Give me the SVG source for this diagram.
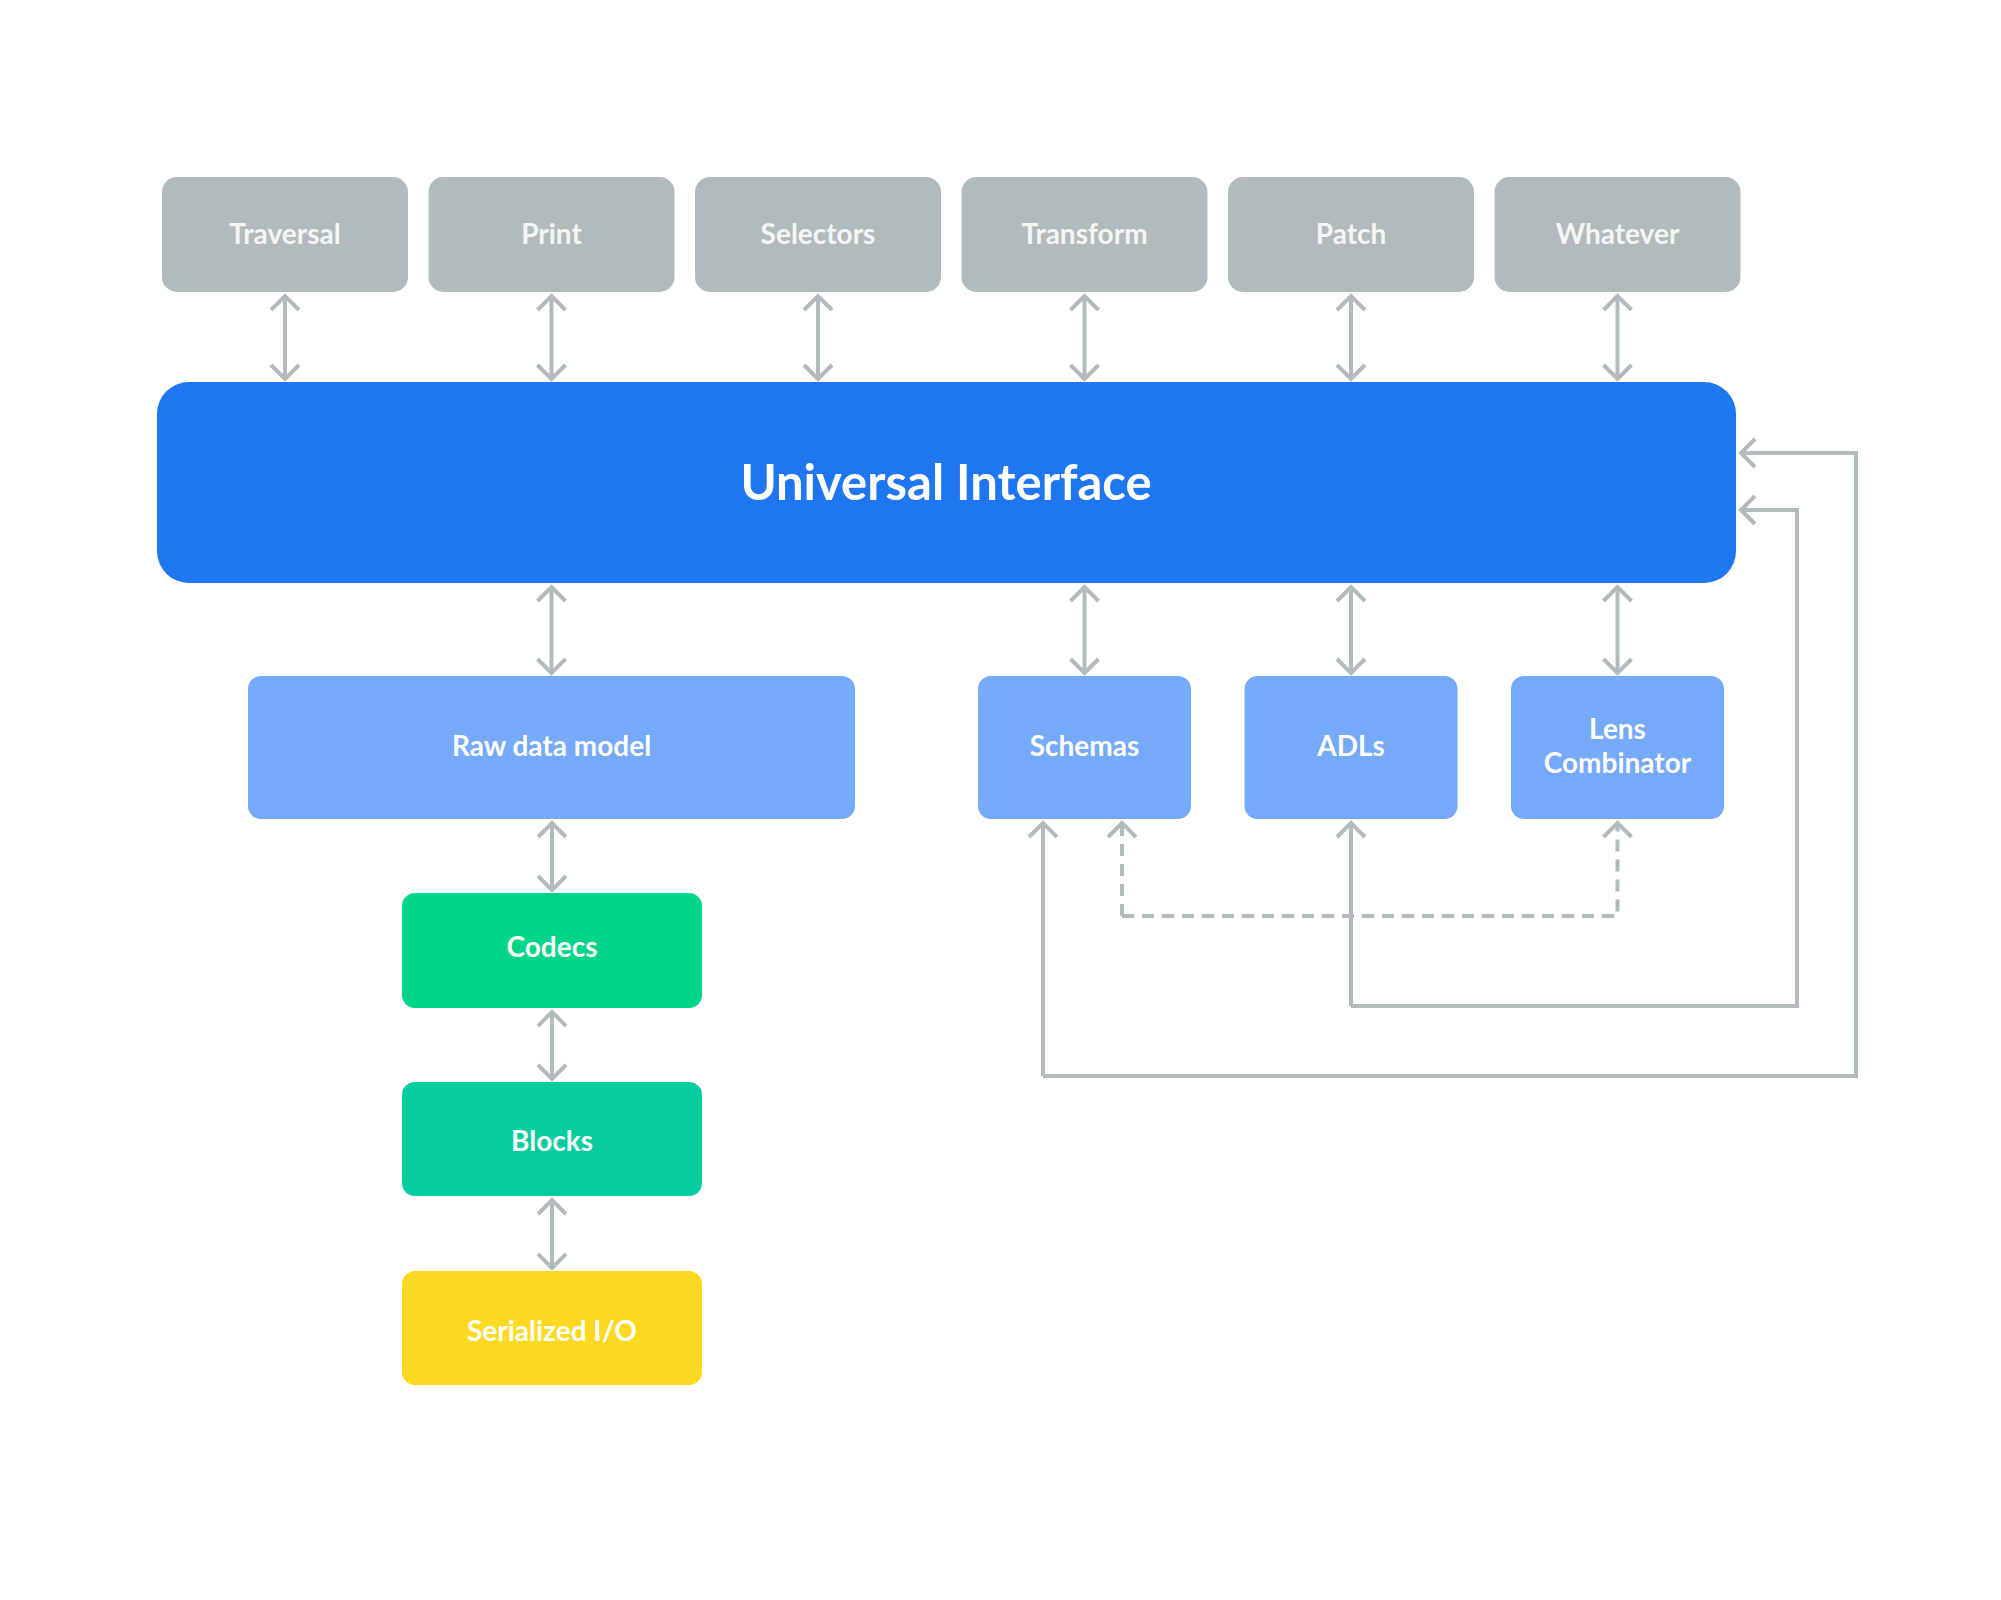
<svg xmlns="http://www.w3.org/2000/svg" width="2001" height="1600" viewBox="0 0 2001 1600">
<style>
.top rect{fill:#b2bbbb}
.lb rect{fill:#74aaf9}
text{font-family:Lato,"Open Sans",sans-serif;font-weight:700;fill:#ffffff;text-anchor:middle;dominant-baseline:central;font-size:28px}
.top text{fill:#f4f6f6}
.big{font-size:49px}
.c{fill:none;stroke:#b2bbbb;stroke-width:4}
.d{stroke-dasharray:12 8}
</style>
<defs>
<marker id="ah" markerUnits="userSpaceOnUse" viewBox="-20 -20 40 40" markerWidth="40" markerHeight="40" refX="1" refY="0" orient="auto-start-reverse" overflow="visible">
<path d="M-14,-14 L0,0 L-14,14" fill="none" stroke="#b2bbbb" stroke-width="4"/>
</marker>
</defs>
<rect width="2001" height="1600" fill="#ffffff"/>
<g id="traversal" class="top"><rect x="162" y="177" width="246" height="115" rx="15"/><text x="285" y="233">Traversal</text></g>
<g id="print" class="top"><rect x="428.5" y="177" width="246" height="115" rx="15"/><text x="551.5" y="233">Print</text></g>
<g id="selectors" class="top"><rect x="695" y="177" width="246" height="115" rx="15"/><text x="818" y="233">Selectors</text></g>
<g id="transform" class="top"><rect x="961.5" y="177" width="246" height="115" rx="15"/><text x="1084.5" y="233">Transform</text></g>
<g id="patch" class="top"><rect x="1228" y="177" width="246" height="115" rx="15"/><text x="1351" y="233">Patch</text></g>
<g id="whatever" class="top"><rect x="1494.5" y="177" width="246" height="115" rx="15"/><text x="1617.5" y="233">Whatever</text></g>
<g id="universal"><rect x="157" y="382" width="1579" height="201" rx="32" fill="#1e77f1"/><text class="big" x="946" y="481">Universal Interface</text></g>
<g id="raw" class="lb"><rect x="248" y="676" width="607" height="143" rx="13"/><text x="551.5" y="745">Raw data model</text></g>
<g id="schemas" class="lb"><rect x="978" y="676" width="213" height="143" rx="13"/><text x="1084.5" y="745">Schemas</text></g>
<g id="adls" class="lb"><rect x="1244.5" y="676" width="213" height="143" rx="13"/><text x="1351" y="745">ADLs</text></g>
<g id="lens" class="lb"><rect x="1511" y="676" width="213" height="143" rx="13"/><text x="1617.5" y="728">Lens</text><text x="1617.5" y="762">Combinator</text></g>
<g id="codecs"><rect x="402" y="893" width="300" height="115" rx="13" fill="#02d488"/><text x="552" y="946">Codecs</text></g>
<g id="blocks"><rect x="402" y="1082" width="300" height="114" rx="13" fill="#05cc9e"/><text x="552" y="1140">Blocks</text></g>
<g id="serialized"><rect x="402" y="1271" width="300" height="114" rx="13" fill="#fed922"/><text x="552" y="1330">Serialized I/O</text></g>
<g id="connectors">
<path class="c" d="M285,295 V380" marker-start="url(#ah)" marker-end="url(#ah)"/>
<path class="c" d="M551.5,295 V380" marker-start="url(#ah)" marker-end="url(#ah)"/>
<path class="c" d="M818,295 V380" marker-start="url(#ah)" marker-end="url(#ah)"/>
<path class="c" d="M1084.5,295 V380" marker-start="url(#ah)" marker-end="url(#ah)"/>
<path class="c" d="M1351,295 V380" marker-start="url(#ah)" marker-end="url(#ah)"/>
<path class="c" d="M1617.5,295 V380" marker-start="url(#ah)" marker-end="url(#ah)"/>
<path class="c" d="M551.5,586 V674" marker-start="url(#ah)" marker-end="url(#ah)"/>
<path class="c" d="M1084.5,586 V674" marker-start="url(#ah)" marker-end="url(#ah)"/>
<path class="c" d="M1351,586 V674" marker-start="url(#ah)" marker-end="url(#ah)"/>
<path class="c" d="M1617.5,586 V674" marker-start="url(#ah)" marker-end="url(#ah)"/>
<path class="c" d="M552,822 V891" marker-start="url(#ah)" marker-end="url(#ah)"/>
<path class="c" d="M552,1011 V1080" marker-start="url(#ah)" marker-end="url(#ah)"/>
<path class="c" d="M552,1199 V1269" marker-start="url(#ah)" marker-end="url(#ah)"/>
<path class="c" d="M1043,1076 V822" marker-end="url(#ah)"/>
<path class="c" d="M1043,1076 H1856 V453 H1740" marker-end="url(#ah)"/>
<path class="c" d="M1351,1006 V822" marker-end="url(#ah)"/>
<path class="c" d="M1351,1006 H1797 V510 H1740" marker-end="url(#ah)"/>
<path class="c d" d="M1122,916 V822" marker-end="url(#ah)"/>
<path class="c d" d="M1122,916 H1617.5 V822" marker-end="url(#ah)"/>
</g>
</svg>
